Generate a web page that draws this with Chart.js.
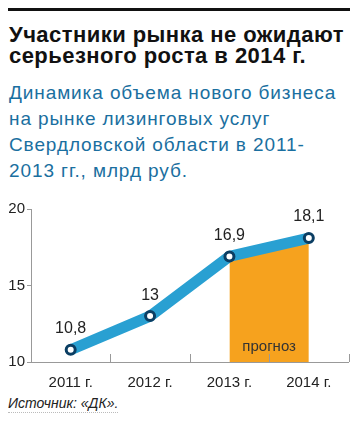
<!DOCTYPE html>
<html><head><meta charset="utf-8">
<script src="https://cdn.jsdelivr.net/npm/chart.js@4/dist/chart.umd.min.js"></script>
<style>
html,body{margin:0;padding:0;background:#fff;width:356px;height:422px;overflow:hidden;font-family:Arial,"Liberation Sans",sans-serif;}
#bar{position:absolute;left:8px;top:8px;width:342px;height:3px;background:#111;}
#title{position:absolute;left:9px;top:24px;font-weight:bold;font-size:22px;line-height:21px;letter-spacing:0.45px;color:#111;white-space:nowrap;}
#sub{position:absolute;left:9px;top:80px;font-size:19px;line-height:26px;letter-spacing:0.9px;color:#1a6fa0;white-space:nowrap;}
#wrap{position:absolute;left:0;top:190px;width:356px;height:205px;}
#src{position:absolute;left:8px;top:395px;font-style:italic;font-size:14px;color:#222;padding-bottom:1px;border-bottom:1px dotted #bbb;}
</style></head><body>
<div id="bar"></div>
<div id="title">Участники рынка не ожидают<br>серьезного роста в 2014 г.</div>
<div id="sub">Динамика объема нового бизнеса<br>на рынке лизинговых услуг<br>Свердловской области в 2011-<br>2013 гг., млрд руб.</div>
<div id="wrap"><canvas id="c" width="356" height="205"></canvas></div>
<div id="src">Источник: «ДК».</div>
<script>
const categories = ["2011 г.", "2012 г.", "2013 г.", "2014 г."];
const values = [10.8, 13, 16.9, 18.1];
const forecastValues = [null, null, 16.9, 18.1];
const forecastLabel = "прогноз";
const yTicks = [10, 15, 20];

const labelPlugin = {
  id: 'labels',
  afterDatasetsDraw(chart) {
    const ctx = chart.ctx;
    const meta = chart.getDatasetMeta(1);
    const xs = chart.scales.x, ys = chart.scales.y;
    ctx.save();
    ctx.font = '16px Arial, "Liberation Sans", sans-serif';
    ctx.fillStyle = '#222';
    ctx.textAlign = 'center';
    ctx.textBaseline = 'middle';
    meta.data.forEach((p, i) => {
      ctx.fillText(String(values[i]).replace('.', ','), p.x, p.y - 21);
    });
    const x1 = xs.getPixelForValue(2), x2 = xs.getPixelForValue(3);
    ctx.font = '15px Arial, "Liberation Sans", sans-serif';
    ctx.fillStyle = '#333';
    ctx.fillText(forecastLabel, (x1 + x2) / 2, ys.getPixelForValue(yTicks[0]) - 15);
    ctx.strokeStyle = '#999';
    ctx.lineWidth = 1;
    const y0 = ys.getPixelForValue(yTicks[0]);
    for (let i = 1; i <= categories.length; i++) {
      const xb = i < categories.length ? (xs.getPixelForValue(i - 1) + xs.getPixelForValue(i)) / 2 : xs.right;
      ctx.beginPath();
      ctx.moveTo(Math.round(xb) + 0.5, y0);
      ctx.lineTo(Math.round(xb) + 0.5, y0 - 8);
      ctx.stroke();
    }
    ctx.restore();
  }
};

new Chart(document.getElementById('c'), {
  type: 'line',
  data: {
    labels: categories,
    datasets: [
      {
        data: forecastValues,
        borderWidth: 0,
        pointRadius: 0,
        backgroundColor: '#f6a21e',
        fill: { value: yTicks[0] },
        order: 2
      },
      {
        data: values,
        borderColor: '#29a0d2',
        borderWidth: 11,
        tension: 0,
        fill: false,
        pointRadius: 4.5,
        pointBorderWidth: 3,
        pointBackgroundColor: '#fff',
        pointBorderColor: '#0b3e63',
        order: 1
      }
    ]
  },
  options: {
    responsive: false,
    animation: false,
    devicePixelRatio: 1,
    layout: { padding: { top: 19, right: 6, left: 0, bottom: 0 } },
    plugins: { legend: { display: false }, tooltip: { enabled: false } },
    scales: {
      x: {
        offset: true,
        grid: { display: true, drawOnChartArea: false, drawTicks: false, color: '#999' },
        border: { display: true, color: '#999' },
        ticks: { padding: 12, color: '#222', font: { size: 15, family: 'Arial, "Liberation Sans", sans-serif' } },
        afterFit(s) { s.height = 33; }
      },
      y: {
        min: 10, max: 20,
        afterBuildTicks(s) { s.ticks = yTicks.map(v => ({ value: v })); },
        grid: { drawOnChartArea: false, drawTicks: true, tickLength: 4, color: '#999' },
        border: { display: true, color: '#999' },
        ticks: { padding: 2, color: '#222', font: { size: 15, family: 'Arial, "Liberation Sans", sans-serif' } },
        afterFit(s) { s.width = 31; }
      }
    }
  },
  plugins: [labelPlugin]
});
</script>
</body></html>
